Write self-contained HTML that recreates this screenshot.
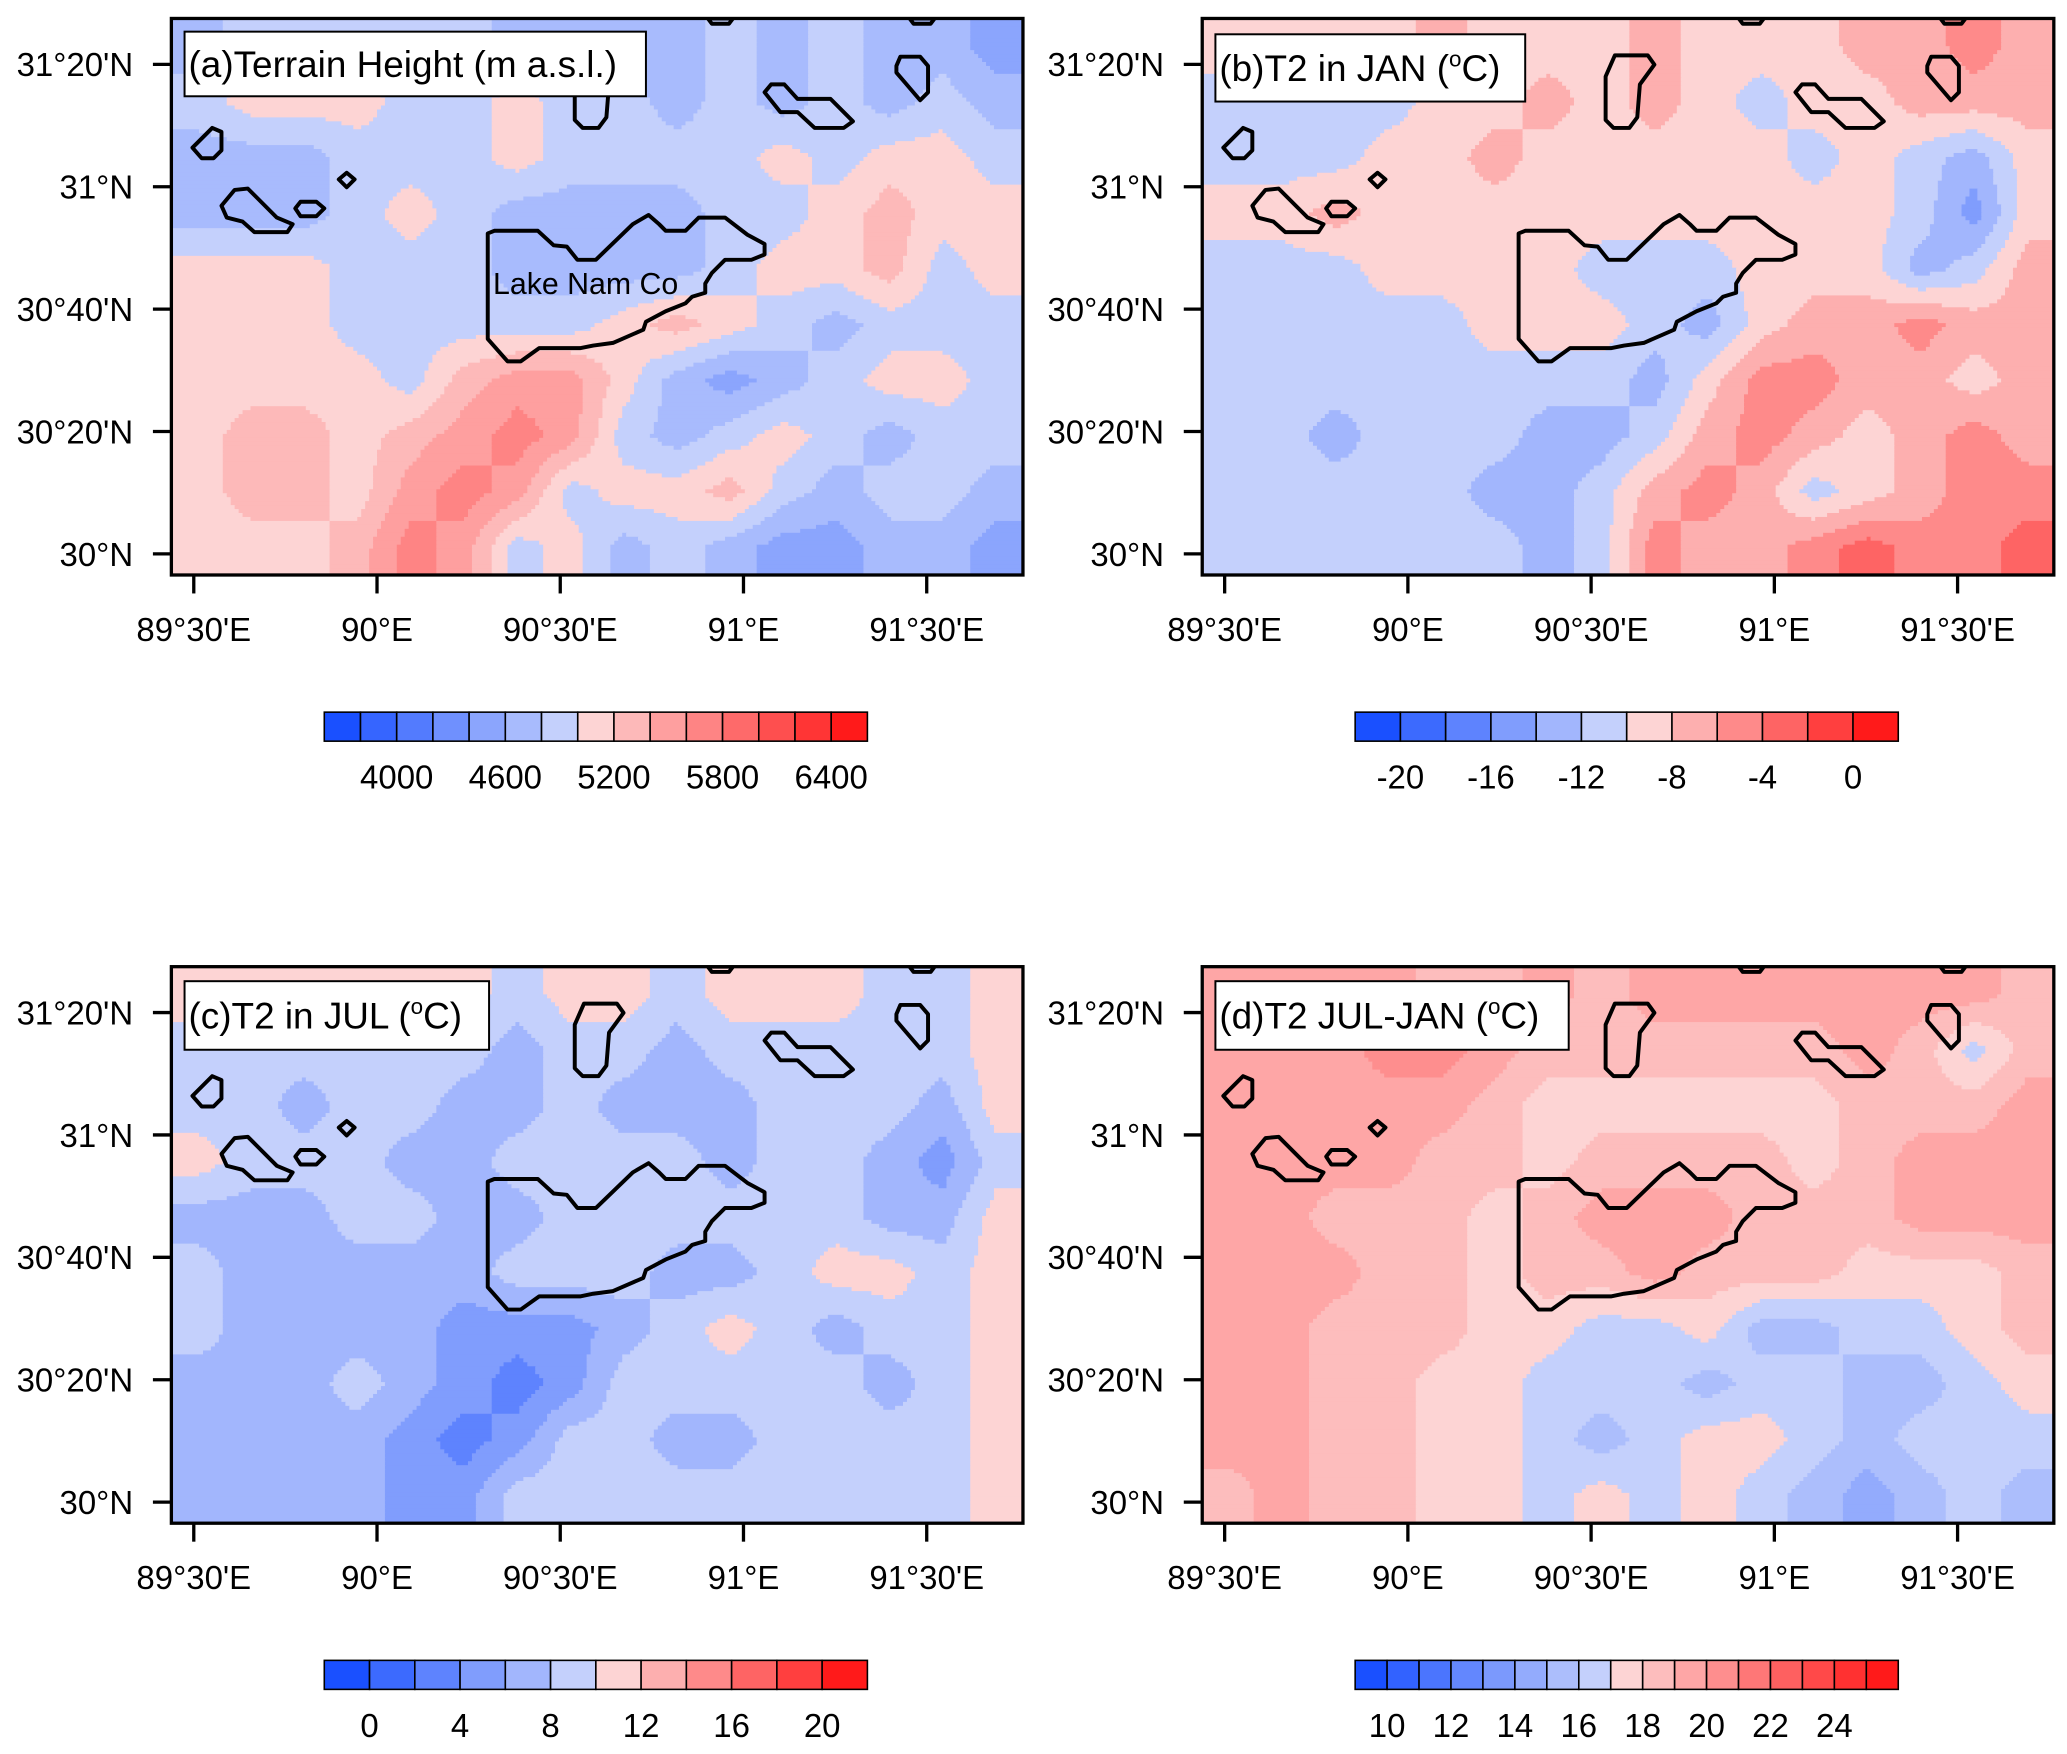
<!DOCTYPE html>
<html><head><meta charset="utf-8">
<style>
html,body{margin:0;padding:0;background:#fff;}
svg{display:block;}
text{font-family:"Liberation Sans",Arial,sans-serif;fill:#000;}
</style></head>
<body>
<svg id="fig" width="2067" height="1754" viewBox="0 0 1568 1330" preserveAspectRatio="none" xmlns="http://www.w3.org/2000/svg"></svg>
<script>
// ---- data (16 cols W->E, 10 rows N->S) ----
const terrainHeight = [
[4700,4900,4900,4900,4900,4900,4700,4700,4700,4700,4900,4700,4900,4700,4700,4500],
[4900,5100,5100,5100,4900,4900,5100,4900,4900,4700,4900,4700,4900,4700,4900,4700],
[4700,4700,4700,4900,4900,4900,5100,4900,4900,4900,4900,5100,4900,5100,5100,4900],
[4700,4700,4700,4900,5100,4900,4700,4700,4700,4700,4900,4900,5100,5300,5100,5100],
[5100,5100,5100,4900,4900,4900,4700,4700,4700,4700,4900,5100,5100,5300,4900,5100],
[5100,5100,5100,4900,4900,4900,4900,4900,5100,5300,5100,4900,4700,4900,4900,4900],
[5100,5100,5100,5100,4900,5300,5500,5500,5100,4700,4500,4700,4900,5100,5100,4900],
[5100,5300,5300,5100,5300,5500,5700,5500,4900,4700,4900,5100,4900,4700,4900,4900],
[5100,5300,5300,5100,5500,5700,5500,4900,5100,5100,5300,4900,4700,4900,4900,4700],
[5100,5100,5100,5300,5700,5500,4900,5100,4700,4900,4700,4500,4500,4700,4700,4500]];
const t2Jan = [
[-9,-9,-9,-9,-7,-9,-9,-9,-7,-9,-9,-9,-7,-7,-5,-7],
[-11,-11,-11,-11,-9,-9,-7,-9,-7,-9,-11,-9,-9,-7,-7,-7],
[-11,-11,-11,-9,-9,-7,-9,-9,-9,-9,-9,-11,-9,-11,-13,-9],
[-9,-9,-7,-9,-9,-9,-9,-9,-9,-9,-9,-9,-9,-11,-15,-9],
[-11,-11,-11,-9,-9,-9,-9,-11,-11,-11,-9,-9,-9,-13,-11,-7],
[-11,-11,-11,-11,-11,-9,-9,-9,-11,-13,-9,-7,-7,-5,-7,-7],
[-11,-11,-11,-11,-11,-11,-11,-11,-13,-9,-5,-5,-7,-7,-9,-7],
[-11,-11,-13,-11,-11,-11,-13,-13,-11,-7,-5,-7,-9,-7,-5,-7],
[-11,-11,-11,-11,-11,-13,-13,-11,-7,-5,-7,-11,-9,-7,-5,-5],
[-11,-11,-11,-11,-11,-11,-13,-11,-5,-7,-7,-5,-3,-5,-5,-3]];
const t2Jul = [
[11,11,11,11,11,11,9,11,11,9,11,11,11,9,9,11],
[9,9,9,9,9,9,7,9,9,7,9,9,9,9,9,11],
[9,9,7,9,9,7,7,9,7,7,7,9,9,9,7,11],
[11,9,9,9,7,7,9,9,9,9,7,9,9,7,5,9],
[7,7,7,9,9,7,7,9,9,9,9,9,9,7,7,11],
[9,7,7,7,7,7,9,9,9,7,7,9,11,11,9,11],
[9,7,7,7,7,5,5,5,7,9,11,9,7,9,9,11],
[7,7,7,9,7,5,3,5,9,9,9,9,9,7,9,11],
[7,7,7,7,5,3,5,9,9,7,7,9,9,9,9,11],
[7,7,7,7,5,5,9,9,9,9,9,9,9,9,9,11]];
const t2Diff = [
[19.5,19.5,19.5,19.5,18.5,18.5,19.5,18.5,19.5,19.5,19.5,19.5,19.5,19.5,19.5,18.5],
[19.5,19.5,19.5,20.5,20.5,19.5,18.5,18.5,18.5,18.5,18.5,18.5,19.5,18.5,16.5,18.5],
[19.5,19.5,19.5,19.5,19.5,18.5,17.5,17.5,17.5,17.5,17.5,17.5,18.5,18.5,18.5,19.5],
[19.5,19.5,19.5,19.5,18.5,18.5,17.5,18.5,18.5,18.5,18.5,17.5,18.5,19.5,19.5,19.5],
[19.5,19.5,18.5,18.5,18.5,17.5,18.5,19.5,19.5,19.5,18.5,18.5,18.5,19.5,19.5,19.5],
[19.5,19.5,19.5,18.5,18.5,17.5,18.5,18.5,19.5,18.5,18.5,18.5,17.5,17.5,17.5,18.5],
[19.5,19.5,18.5,18.5,18.5,17.5,17.5,16.5,16.5,17.5,15.5,15.5,16.5,16.5,17.5,18.5],
[19.5,19.5,18.5,18.5,17.5,17.5,16.5,16.5,16.5,15.5,16.5,16.5,15.5,15.5,16.5,17.5],
[19.5,19.5,18.5,18.5,17.5,17.5,16.5,15.5,16.5,17.5,17.5,16.5,15.5,16.5,16.5,16.5],
[18.5,19.5,18.5,18.5,17.5,17.5,16.5,17.5,16.5,17.5,16.5,15.5,14.5,15.5,16.5,15.5]];

const lonTickLabels = ["89°30'E","90°E","90°30'E","91°E","91°30'E"];
const latTickLabels = ["31°20'N","31°N","30°40'N","30°20'N","30°N"];
const lonTicks = [89.5,90,90.5,91,91.5];
const latTicks = [31.3333,31,30.6667,30.3333,30];
const barLabelsA = ["4000","4600","5200","5800","6400"];
const barLabelsB = ["-20","-16","-12","-8","-4","0"];
const barLabelsC = ["0","4","8","12","16","20"];
const barLabelsD = ["10","12","14","16","18","20","22","24"];

const NS="http://www.w3.org/2000/svg";
const svg=document.getElementById('fig');
function mk(tag,attrs,parent){const e=document.createElementNS(NS,tag);for(const k in attrs)e.setAttribute(k,attrs[k]);(parent||svg).appendChild(e);return e;}

const PW=646, PH=422;
const lonScale = lon => 17 + (lon-89.5)/0.5*139;
const latScale = lat => 406 - (lat-30)/(1/3)*92.8;

function hex(c){return '#'+c.map(v=>Math.round(v).toString(16).padStart(2,'0')).join('');}
function lerp(a,b,t){return a.map((v,i)=>v+(b[i]-v)*t);}
function palette(nb,nr){
  const out=[];
  for(let i=0;i<nb;i++){out.push(hex(lerp([26,80,255],[196,208,252],nb>1?i/(nb-1):0)));}
  for(let i=0;i<nr;i++){out.push(hex(lerp([253,212,212],[255,26,26],nr>1?i/(nr-1):0)));}
  return out;
}

const panels=[
 {key:'a',grid:terrainHeight,x:130,y:14,lo:3600,step:200,nb:7,nr:8,cbx:246,cby:540,labels:barLabelsA,labK:[2,5,8,11,14],
  title:'(a)Terrain Height (m a.s.l.)',tb:[140,24,350,49],lake:true},
 {key:'b',grid:t2Jan,x:912,y:14,lo:-22,step:2,nb:6,nr:6,cbx:1028,cby:540,labels:barLabelsB,labK:[1,3,5,7,9,11],
  title:'(b)T2 in JAN (',tb:[922,26,235,51]},
 {key:'c',grid:t2Jul,x:130,y:733,lo:-2,step:2,nb:6,nr:6,cbx:246,cby:1259,labels:barLabelsC,labK:[1,3,5,7,9,11],
  title:'(c)T2 in JUL (',tb:[140,744,231,52]},
 {key:'d',grid:t2Diff,x:912,y:733,lo:9,step:1,nb:8,nr:9,cbx:1028,cby:1259,labels:barLabelsD,labK:[1,3,5,7,9,11,13,15],
  title:'(d)T2 JUL-JAN (',tb:[922,744,268,52]}
];

const shapes=[
 [[20,94],[31,83],[38,86],[38,100],[32,106],[23,106],[16,98]],
 [[38,142],[48,130],[58,129],[80,151],[92,156],[88,162],[63,162],[54,154],[42,151]],
 [[94,144],[98,139],[110,139],[116,144],[110,150],[98,150]],
 [[127,122],[133,117],[139,122],[133,128]],
 [[306,44],[313,28],[338,28],[343,35],[332,50],[330,75],[324,83],[312,83],[306,77]],
 [[240,163],[245,161],[278,161],[290,172],[300,173],[308,183],[322,183],[350,156],[362,149],[370,156],[375,161],[390,161],[400,151],[420,151],[437,164],[450,171],[450,179],[440,183],[420,183],[410,193],[405,201],[405,208],[395,211],[390,216],[375,222],[360,230],[358,236],[335,246],[320,248],[310,250],[279,250],[265,260],[255,260],[240,243]],
 [[450,56],[455,50],[465,50],[475,61],[500,61],[517,78],[510,83],[488,83],[475,71],[462,71]],
 [[550,36],[553,29],[568,29],[574,36],[574,56],[568,62],[556,48],[550,41]],
 [[407,0],[410,4],[423,4],[426,0]],
 [[560,0],[563,4],[576,4],[579,0]]
];

panels.forEach(p=>{
  const g=mk('g',{transform:`translate(${p.x},${p.y})`});
  
  
  const cols=palette(p.nb,p.nr), n=cols.length;
  const clipId='clip'+p.key;
  const cp=mk('clipPath',{id:clipId},g); mk('rect',{x:0,y:0,width:PW,height:PH},cp);
  const field=mk('g',{'clip-path':`url(#${clipId})`},g);
  
  
  const G=p.grid, R=G.length, C=G[0].length, cw=PW/C, ch=PH/R;
  function val(px,py){
    let gx=px/cw-0.5, gy=py/ch-0.5;
    gx=Math.max(0,Math.min(C-1,gx)); gy=Math.max(0,Math.min(R-1,gy));
    const x0=Math.min(C-2,Math.floor(gx)), y0=Math.min(R-2,Math.floor(gy));
    const tx=gx-x0, ty=gy-y0;
    const a=G[y0][x0]+(G[y0][x0+1]-G[y0][x0])*tx;
    const b=G[y0+1][x0]+(G[y0+1][x0+1]-G[y0+1][x0])*tx;
    return a+(b-a)*ty;
  }
  function cell(x,y,w,h,c){
    const r=mk('rect',{x:x,y:y,width:w,height:h,fill:c},field);
    
    
  }
  const s=3;
  for(let py=0;py<PH;py+=s){
    let runStart=0, runIdx=-1, px=0;
    for(px=0;px<PW;px+=s){
      let idx=Math.floor((val(px+s/2,py+s/2)-p.lo)/p.step);
      idx=Math.max(0,Math.min(n-1,idx));
      if(idx!==runIdx){
        if(runIdx>=0) cell(runStart,py,px-runStart+0.6,s+0.6,cols[runIdx]);
        runStart=px; runIdx=idx;
      }
    }
    cell(runStart,py,PW-runStart+2,s+0.6,cols[runIdx]);
  }
  const cg=mk('g',{'clip-path':`url(#${clipId})`},g);
  
  
  shapes.forEach(sh=>{
    const pl=mk('polygon',{points:sh.map(q=>q.join(',')).join(' '),fill:'none',stroke:'#000','stroke-width':3,'stroke-linejoin':'round'},cg);
    
    
  });
  if(p.lake){
    const lt=mk('text',{x:244,y:209,'font-size':23},g); lt.textContent='Lake Nam Co';
    
    
  }
  const fr=mk('rect',{x:0,y:0,width:PW,height:PH,fill:'none',stroke:'#000','stroke-width':2.5},g);
  
  
  lonTicks.forEach((lon,i)=>{
    const x=lonScale(lon);
    const t=mk('line',{x1:x,y1:PH,x2:x,y2:PH+14,stroke:'#000','stroke-width':2.5},g);
    
    
    const l=mk('text',{x:x,y:PH+50,'font-size':25,'text-anchor':'middle'},g); l.textContent=lonTickLabels[i];
    
    
  });
  latTicks.forEach((lat,i)=>{
    const y=latScale(lat);
    const t=mk('line',{x1:-14,y1:y,x2:0,y2:y,stroke:'#000','stroke-width':2.5},g);
    
    
    const l=mk('text',{x:-29,y:y+9,'font-size':25,'text-anchor':'end'},g); l.textContent=latTickLabels[i];
    
    
  });
  const tb=mk('rect',{x:p.tb[0]-p.x,y:p.tb[1]-p.y,width:p.tb[2],height:p.tb[3],fill:'#fff',stroke:'#000','stroke-width':1.5},g);
  
  
  const tt=mk('text',{x:p.tb[0]-p.x+3,y:p.tb[1]-p.y+p.tb[3]/2+10,'font-size':28},g);
  
  
  if(p.key==='a'){tt.textContent=p.title;}
  else{
    tt.appendChild(document.createTextNode(p.title));
    const sup=mk('tspan',{'font-size':17,dy:-11},tt); sup.textContent='o';
    const rest=mk('tspan',{dy:11},tt); rest.textContent='C)';
  }
  const bw=412/n;
  const cb=mk('g',{});
  
  
  cols.forEach((c,k)=>{
    const r=mk('rect',{x:p.cbx+k*bw,y:p.cby,width:bw,height:22,fill:c,stroke:'#000','stroke-width':1.2},cb);
    
    
  });
  p.labels.forEach((lab,i)=>{
    const t=mk('text',{x:p.cbx+p.labK[i]*bw,y:p.cby+58,'font-size':25,'text-anchor':'middle'},cb);
    t.textContent=lab;
    
    
  });
});
</script>
</body></html>
